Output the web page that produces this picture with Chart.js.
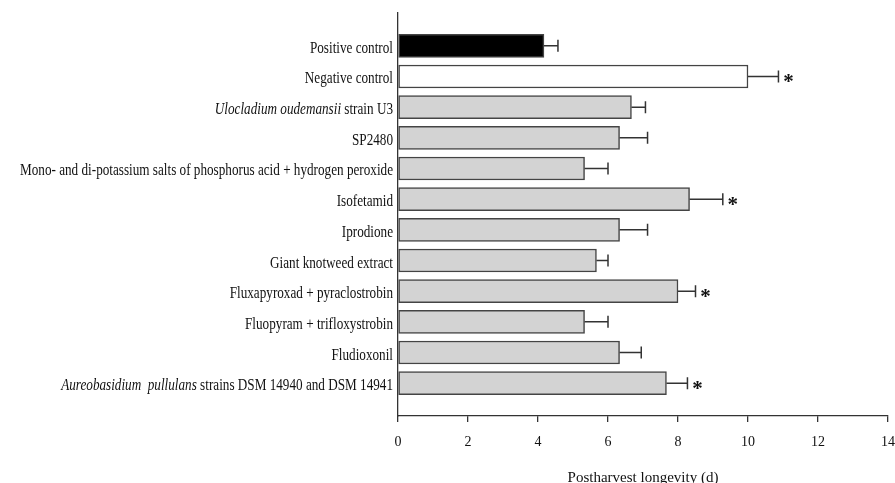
<!DOCTYPE html>
<html>
<head>
<meta charset="utf-8">
<script src="https://cdn.jsdelivr.net/npm/chart.js@4/dist/chart.umd.min.js"></script>
<style>
  body { margin: 0; background: #fff; }
  #wrap { width: 895px; height: 483px; }
</style>
</head>
<body>
<div id="wrap"><canvas id="chart" width="895" height="483"></canvas></div>
<script>
// treatments, top to bottom
const categories = [
  "Positive control",
  "Negative control",
  "Ulocladium oudemansii strain U3",
  "SP2480",
  "Mono- and di-potassium salts of phosphorus acid + hydrogen peroxide",
  "Isofetamid",
  "Iprodione",
  "Giant knotweed extract",
  "Fluxapyroxad + pyraclostrobin",
  "Fluopyram + trifloxystrobin",
  "Fludioxonil",
  "Aureobasidium  pullulans strains DSM 14940 and DSM 14941"
];
// the part of a label set in italics (species names)
const italicPart = ["", "", "Ulocladium oudemansii", "", "", "", "", "", "", "", "", "Aureobasidium  pullulans"];

const longevity = [4.17, 10.0, 6.67, 6.33, 5.33, 8.33, 6.33, 5.67, 8.0, 5.33, 6.33, 7.67];
const errors    = [0.40, 0.87, 0.40, 0.80, 0.67, 0.95, 0.80, 0.33, 0.50, 0.67, 0.62, 0.60];
const significant = [false, true, false, false, false, true, false, false, true, false, false, true];

const xTicks = [0, 2, 4, 6, 8, 10, 12, 14];

const fills = categories.map((c, i) => i === 0 ? "#000000" : (i === 1 ? "#ffffff" : "#d3d3d3"));

const serif = "'Liberation Serif', 'Times New Roman', serif";

// error bars + stars
const errorBars = {
  id: "errorBars",
  afterDatasetsDraw(chart) {
    const ctx = chart.ctx;
    const xs = chart.scales.x, ys = chart.scales.y;
    ctx.save();
    ctx.strokeStyle = "#333";
    ctx.lineWidth = 1.5;
    longevity.forEach((v, i) => {
      const x0 = xs.getPixelForValue(v);
      const x1 = xs.getPixelForValue(v + errors[i]);
      const y = ys.getPixelForValue(i);
      ctx.beginPath();
      ctx.moveTo(x0, y);
      ctx.lineTo(x1, y);
      ctx.moveTo(x1, y - 6);
      ctx.lineTo(x1, y + 6);
      ctx.stroke();
      if (significant[i]) {
        ctx.fillStyle = "#111";
        ctx.font = "bold 21px " + serif;
        ctx.textAlign = "center";
        ctx.textBaseline = "alphabetic";
        ctx.fillText("*", x1 + 10, y + 12);
      }
    });
    ctx.restore();
  }
};

// category labels, with italic species names
const categoryLabels = {
  id: "categoryLabels",
  afterDraw(chart) {
    const ctx = chart.ctx;
    const ys = chart.scales.y;
    const right = chart.chartArea.left - 5;
    ctx.save();
    ctx.fillStyle = "#111";
    ctx.textBaseline = "alphabetic";
    ctx.textAlign = "right";
    categories.forEach((label, i) => {
      const y = ys.getPixelForValue(i) + 7;
      const it = italicPart[i];
      const rest = it ? label.slice(it.length) : label;
      ctx.save();
      ctx.translate(right, y);
      ctx.scale(0.775, 1);
      ctx.font = "17px " + serif;
      ctx.fillText(rest, 0, 0);
      if (it) {
        const w = ctx.measureText(rest).width;
        ctx.font = "italic 17px " + serif;
        ctx.fillText(it, -w, 0);
      }
      ctx.restore();
    });
    ctx.restore();
  }
};

new Chart(document.getElementById("chart"), {
  type: "bar",
  data: {
    datasets: [{
      data: longevity.map((v, i) => ({ x: v, y: i })),
      backgroundColor: fills,
      borderColor: "#444",
      borderWidth: 1.5,
      borderSkipped: false,
      barThickness: 23
    }]
  },
  options: {
    indexAxis: "y",
    responsive: false,
    animation: false,
    layout: { padding: { top: 13, right: 7, left: 0, bottom: 0 } },
    plugins: { legend: { display: false }, tooltip: { enabled: false } },
    scales: {
      x: {
        type: "linear",
        min: 0,
        max: 14,
        afterBuildTicks: (axis) => { axis.ticks = xTicks.map(v => ({ value: v })); },
        afterFit: (s) => { s.height = 67; s.paddingLeft = 0; s.paddingRight = 0; },
        grid: { display: true, drawOnChartArea: false, drawTicks: true, tickLength: 6, color: "#333", lineWidth: 1.3 },
        border: { display: true, color: "#333", width: 1.3 },
        ticks: { color: "#111", padding: 12, font: { family: serif, size: 14 }, maxRotation: 0 },
        title: {
          display: true,
          text: "Postharvest longevity (d)",
          color: "#111",
          font: { family: serif, size: 15, lineHeight: 1 },
          padding: { top: 0, bottom: -3 }
        }
      },
      y: {
        type: "linear",
        reverse: true,
        offset: false,
        min: -1.07,
        max: 12.07,
        afterFit: (s) => { s.width = 398; },
        grid: { display: false },
        border: { display: true, color: "#333", width: 1.3 },
        ticks: { display: false }
      }
    }
  },
  plugins: [errorBars, categoryLabels]
});
</script>
</body>
</html>
